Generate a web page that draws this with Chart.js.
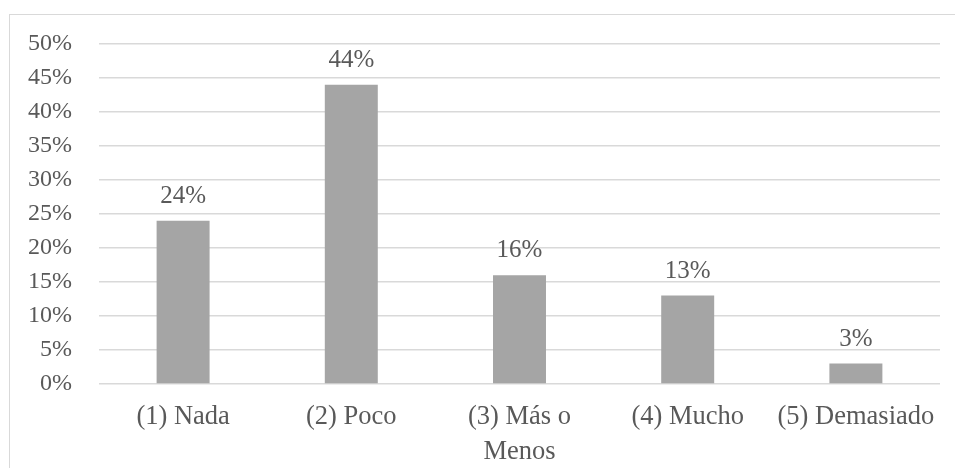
<!DOCTYPE html>
<html>
<head>
<meta charset="utf-8">
<script src="https://cdn.jsdelivr.net/npm/chart.js@4/dist/chart.umd.min.js"></script>
<style>
  html, body { margin: 0; padding: 0; background: #fff; overflow: hidden; width: 955px; height: 468px; }
  #frame { position: absolute; left: 9px; top: 14px; width: 1000px; height: 500px; border: 1px solid #d9d9d9; }
  #wrap { position: absolute; left: 0; top: 0; width: 955px; height: 468px; }
</style>
</head>
<body>
<div id="frame"></div>
<div id="wrap"><canvas id="grafico"></canvas></div>
<script>
// respuestas por categoría (porcentaje)
const categorias = ["(1) Nada", "(2) Poco", ["(3) Más o", "Menos"], "(4) Mucho", "(5) Demasiado"];
const porcentajes = [24, 44, 16, 13, 3];
const ticksY = [0, 5, 10, 15, 20, 25, 30, 35, 40, 45, 50];

const textColor = "#595959";
const fuente = "'Liberation Serif', 'Times New Roman', serif";

// etiquetas de valor encima de cada barra
const etiquetasBarras = {
    id: "etiquetasBarras",
    afterDatasetsDraw(chart) {
        const ctx = chart.ctx;
        const meta = chart.getDatasetMeta(0);
        ctx.save();
        ctx.font = "25px " + fuente;
        ctx.fillStyle = textColor;
        ctx.textAlign = "center";
        ctx.textBaseline = "bottom";
        meta.data.forEach((bar, i) => {
            ctx.fillText(porcentajes[i] + "%", bar.x, bar.y - 12);
        });
        ctx.restore();
    }
};

function crearGrafico() {
    const ctx = document.getElementById("grafico").getContext("2d");
    new Chart(ctx, {
        type: "bar",
        data: {
            labels: categorias,
            datasets: [{
                data: porcentajes,
                backgroundColor: "#a5a5a5",
                categoryPercentage: 1,
                barPercentage: 0.315
            }]
        },
        options: {
            responsive: false,
            animation: false,
            layout: {
                padding: { left: 0, right: 15, top: 44, bottom: 0 }
            },
            plugins: {
                legend: { display: false },
                tooltip: { enabled: false }
            },
            scales: {
                x: {
                    grid: { display: false },
                    border: { display: false },
                    ticks: {
                        color: textColor,
                        font: { family: fuente, size: 26.5, lineHeight: 1.3 },
                        padding: 8,
                        maxRotation: 0,
                        autoSkip: false
                    },
                    afterFit(scale) { scale.height = 84; }
                },
                y: {
                    min: 0,
                    max: 50,
                    afterBuildTicks(scale) {
                        scale.ticks = ticksY.map(v => ({ value: v }));
                    },
                    grid: { color: "#d9d9d9", lineWidth: 1.5, drawTicks: false },
                    border: { display: false },
                    ticks: {
                        color: textColor,
                        font: { family: fuente, size: 24 },
                        padding: 27,
                        callback: v => v + "%"
                    },
                    afterFit(scale) { scale.width = 99; }
                }
            }
        },
        plugins: [etiquetasBarras]
    });
}

const canvas = document.getElementById("grafico");
canvas.width = 955;
canvas.height = 468;
crearGrafico();
</script>
</body>
</html>
